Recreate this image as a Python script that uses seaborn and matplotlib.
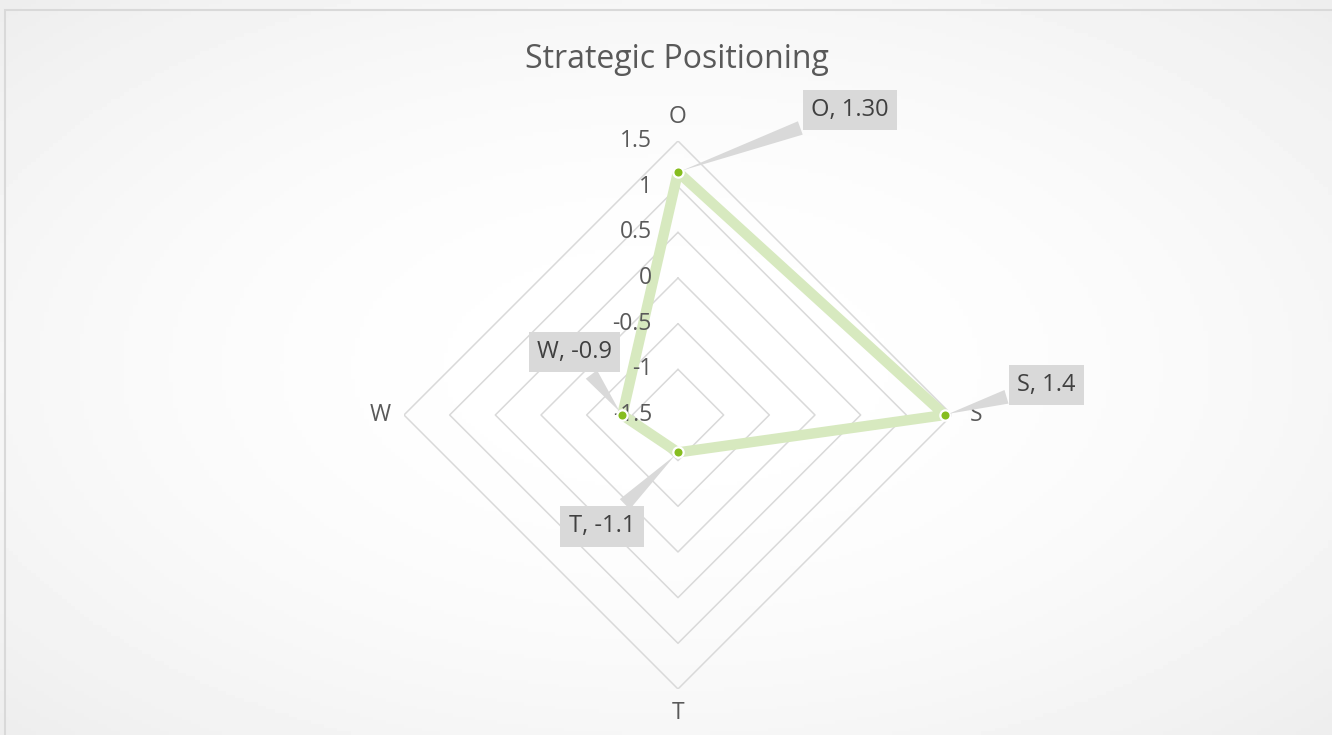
import numpy as np
import seaborn as sns
import matplotlib.pyplot as plt
from matplotlib.patches import Rectangle

# data (O, S, T, W clockwise from top)
categories = ["O", "S", "T", "W"]
values = [1.16, 1.42, -1.09, -0.89]
label_texts = ["O, 1.30", "S, 1.4", "T, -1.1", "W, -0.9"]
ring_values = [-1.5, -1, -0.5, 0, 0.5, 1, 1.5]
ring_labels = ["-1.5", "-1", "-0.5", "0", "0.5", "1", "1.5"]

sns.set_theme(style="white")
plt.rcParams['font.family'] = ['Open Sans', 'DejaVu Sans']

fig = plt.figure(figsize=(13.32, 7.35), dpi=100)
fig.patch.set_facecolor('white')

# soft radial background like the office chart area
bg = fig.add_axes([0, 0, 1, 1], zorder=-2)
gx, gy = np.meshgrid(np.linspace(-1, 1, 300), np.linspace(-1, 1, 200))
bg.imshow(1 - 0.035 * (gx**2 + gy**2), cmap='gray', vmin=0, vmax=1, aspect='auto')
bg.axis('off')
fig.add_artist(Rectangle((5 / 1332, -0.1), 1.2, 1.0864, transform=fig.transFigure,
                         fill=False, ec='#d9d9d9', lw=1.5))

ax = fig.add_axes([0.3033, 0.0626, 0.4114, 0.7456], projection='polar')
ax.set_facecolor('none')
ax.set_theta_zero_location('N')
ax.set_theta_direction(-1)
ax.set_ylim(ring_values[0], ring_values[-1])
ax.grid(False)
ax.spines['polar'].set_visible(False)

theta = np.deg2rad(np.arange(len(categories)) * 360 / len(categories))
theta_c = np.append(theta, theta[0] + 2 * np.pi)

# diamond grid rings
for r in ring_values[1:]:
    ax.plot(theta_c, [r] * len(theta_c), color='#d9d9d9', lw=1.1, zorder=1)

vals_c = values + values[:1]
sns.lineplot(x=theta_c, y=vals_c, ax=ax, sort=False, estimator=None,
             color='#d7e9bf', lw=7.5, zorder=2)
sns.scatterplot(x=theta, y=values, ax=ax, color='#86bd1f', s=55,
                edgecolor='white', linewidth=1.6, zorder=4)

ax.set_xticks(theta)
ax.set_xticklabels(categories)
ax.tick_params(axis='x', pad=4, labelsize=16.5, labelcolor='#595959')
ax.set_yticks([])
ax.set_xlabel('')
ax.set_ylabel('')

# radial value labels along the O axis
for r, t in zip(ring_values, ring_labels):
    ax.annotate(t, xy=(0, r), xytext=(-26, 0), textcoords='offset pixels',
                ha='right', va='center', fontsize=16.5, color='#595959', zorder=3)

# callout data labels
offsets = [(172, 62), (102, 30), (-76, -74), (-48, 63)]
for th, v, txt, off in zip(theta, values, label_texts, offsets):
    ax.annotate(txt, xy=(th, v), xytext=off, textcoords='offset pixels',
                ha='center', va='center', fontsize=17, color='#404040', zorder=5,
                bbox=dict(boxstyle='square,pad=0.35', fc='#d9d9d9', ec='none'),
                arrowprops=dict(arrowstyle='wedge,tail_width=0.6,shrink_factor=0.5',
                                fc='#d9d9d9', ec='none', shrinkB=3))

fig.text(0.508, 1 - 60 / 735, 'Strategic Positioning', ha='center', va='center',
         fontsize=23, color='#595959')

fig.savefig('out.png', dpi=100)
